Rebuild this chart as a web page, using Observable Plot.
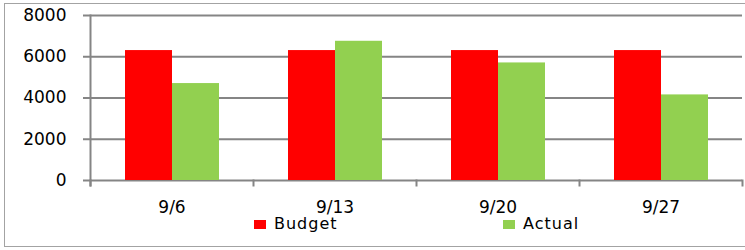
<!DOCTYPE html>
<html>
<head>
<meta charset="utf-8">
<script src="https://cdn.jsdelivr.net/npm/d3@7"></script>
<script src="https://cdn.jsdelivr.net/npm/@observablehq/plot@0.6"></script>
<style>
  html, body { margin: 0; padding: 0; background: #fff; }
  body { width: 745px; height: 250px; position: relative; overflow: hidden; font-family: "DejaVu Sans", Verdana, sans-serif; }
  #frame { position: absolute; left: 4px; top: 3px; width: 800px; height: 244px; border: 1px solid #a3a3a3; box-sizing: border-box; }
  #chart { position: absolute; left: 0; top: 0; }
  #legend { position: absolute; left: 254px; top: 214px; display: flex; font-size: 16px; letter-spacing: 1px; color: #000; }
  .item { display: flex; align-items: center; }
  .sw { width: 12px; height: 9px; margin-right: 8px; margin-top: 2px; }
</style>
</head>
<body>
<div id="frame"></div>
<div id="chart"></div>
<div id="legend"></div>
<script>
const dates = ["9/6", "9/13", "9/20", "9/27"];
const series = ["Budget", "Actual"];
const budget = [6300, 6300, 6300, 6300];
const actual = [4700, 6750, 5700, 4150];
const yTicks = [0, 2000, 4000, 6000, 8000];
const colors = ["#ff0000", "#92d050"];

const data = [];
dates.forEach((d, i) => {
  data.push({date: d, series: "Budget", value: budget[i]});
  data.push({date: d, series: "Actual", value: actual[i]});
});

const W = 745, H = 250, mTop = 15, mBottom = 70;
const plotH = H - mTop - mBottom;
const gray = "#858585";

const chart = Plot.plot({
  width: W,
  height: H,
  marginLeft: 88,
  marginRight: 2,
  marginTop: mTop,
  marginBottom: mBottom,
  style: {fontFamily: "'DejaVu Sans', Verdana, sans-serif", color: "#000", background: "transparent", overflow: "visible"},
  fx: {domain: dates, paddingInner: 0, paddingOuter: 0, label: null},
  x: {domain: series, paddingInner: 0, paddingOuter: 0.7, axis: null},
  y: {domain: [0, 8000], label: null},
  color: {domain: series, range: colors},
  marks: [
    Plot.gridY(yTicks, {stroke: gray, strokeOpacity: 1, strokeWidth: 2}),
    Plot.barY(data, {fx: "date", x: "series", y: "value", fill: "series"}),
    Plot.frame({anchor: "left", facetAnchor: "left", stroke: gray, strokeWidth: 2, insetBottom: -5}),
    Plot.frame({anchor: "left", stroke: gray, strokeWidth: 2, insetTop: plotH, insetBottom: -5}),
    Plot.frame({anchor: "right", facetAnchor: "right", stroke: gray, strokeWidth: 2, insetTop: plotH, insetBottom: -5}),
    Plot.axisY({ticks: yTicks, tickSize: 7, tickPadding: 17, stroke: gray, strokeWidth: 2, fontSize: 17, label: null, tickFormat: d => String(d)}),
    Plot.axisFx({anchor: "bottom", tickSize: 0, tickPadding: 20, fontSize: 17, label: null, style: {letterSpacing: "0.6px"}})
  ]
});
document.getElementById("chart").appendChild(chart);

const legend = document.getElementById("legend");
series.forEach((s, i) => {
  const item = document.createElement("div");
  item.className = "item";
  if (i === 0) item.style.width = "249px";
  const sw = document.createElement("div");
  sw.className = "sw";
  sw.style.background = colors[i];
  const t = document.createElement("span");
  t.textContent = s;
  item.appendChild(sw);
  item.appendChild(t);
  legend.appendChild(item);
});
</script>
</body>
</html>
